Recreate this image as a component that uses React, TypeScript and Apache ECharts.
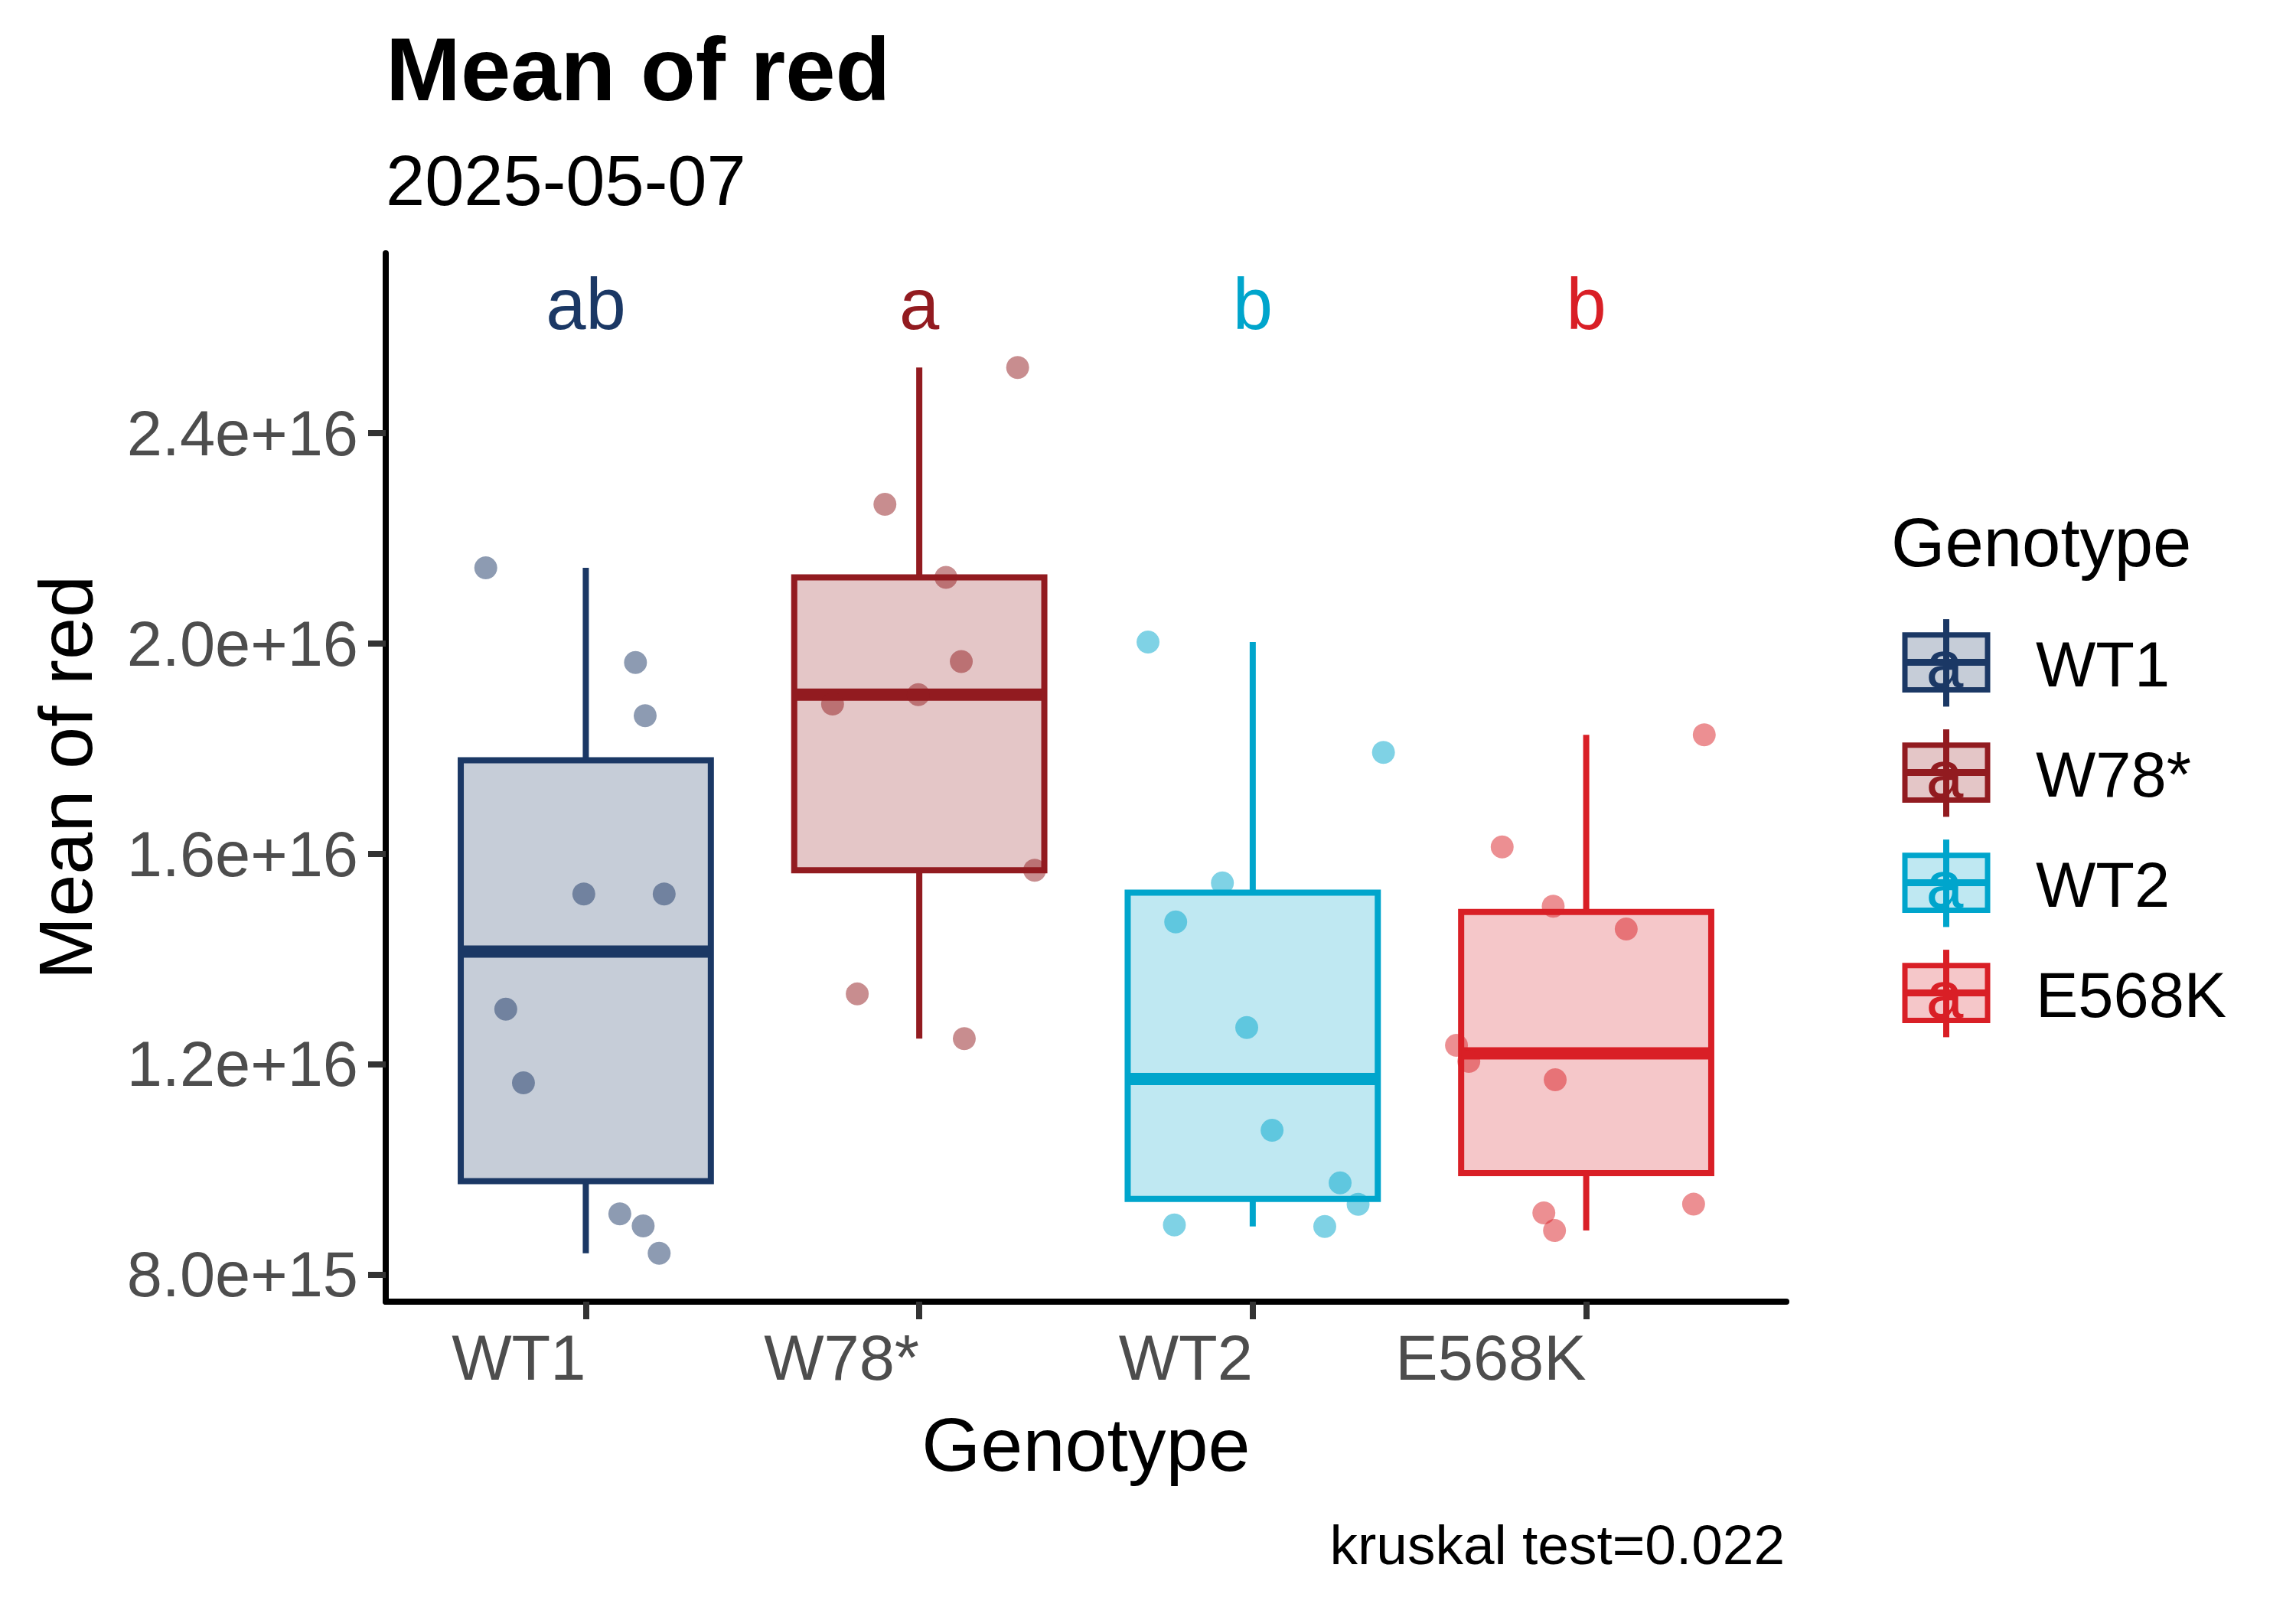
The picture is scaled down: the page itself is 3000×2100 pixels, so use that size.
import React, { useEffect, useRef } from "react";
import * as echarts from "echarts";

// ---------------- data ----------------
const genotypes = ["WT1", "W78*", "WT2", "E568K"];
const genotypeColors = ["#1B3865", "#921B20", "#00A5CC", "#D91F26"];
const groupLetters = ["ab", "a", "b", "b"];
const letterY = 2.645e16;

const wt1Values = [2.144e16, 1.964e16, 1.863e16, 1.524e16, 1.524e16, 1.305e16, 1.165e16, 9.16e15, 8.93e15, 8.41e15];
const wt1Jitter = [-0.3, 0.149, 0.178, -0.006, 0.235, -0.24, -0.187, 0.102, 0.172, 0.22];

const w78Values = [2.525e16, 2.265e16, 2.126e16, 1.966e16, 1.903e16, 1.885e16, 1.569e16, 1.334e16, 1.249e16];
const w78Jitter = [0.295, -0.103, 0.08, 0.126, -0.003, -0.26, 0.346, -0.186, 0.135];

const wt2Values = [2.003e16, 1.793e16, 1.545e16, 1.471e16, 1.27e16, 1.075e16, 9.75e15, 9.34e15, 8.95e15, 8.92e15];
const wt2Jitter = [-0.314, 0.392, -0.091, -0.231, -0.018, 0.058, 0.262, 0.316, -0.235, 0.216];

const e568kValues = [1.8265e16, 1.6135e16, 1.5008e16, 1.4576e16, 1.2364e16, 1.2058e16, 1.1709e16, 9.343e15, 9.178e15, 8.844e15];
const e568kJitter = [0.354, -0.252, -0.099, 0.12, -0.389, -0.352, -0.093, 0.322, -0.127, -0.095];

const pointValues = [wt1Values, w78Values, wt2Values, e568kValues];
const pointJitter = [wt1Jitter, w78Jitter, wt2Jitter, e568kJitter];

const yTickValues = [8e15, 1.2e16, 1.6e16, 2.0e16, 2.4e16];
const yTickLabels = ["8.0e+15", "1.2e+16", "1.6e+16", "2.0e+16", "2.4e+16"];
const xTickValues = [1, 2, 3, 4];
const yMin = 7.49e15;
const yMax = 2.742e16;
const xMin = 0.4;
const xMax = 4.6;
const boxWidth = 0.75;

const titleText = "Mean of red";
const subtitleText = "2025-05-07";
const xTitle = "Genotype";
const yTitle = "Mean of red";
const legendTitle = "Genotype";
const captionText = "kruskal test=0.022";

// ---------------- helpers ----------------
const FONT = "'Liberation Sans', Arial, Helvetica, sans-serif";

function alpha(hex: string, a: number): string {
  const r = parseInt(hex.slice(1, 3), 16);
  const g = parseInt(hex.slice(3, 5), 16);
  const b = parseInt(hex.slice(5, 7), 16);
  return `rgba(${r},${g},${b},${a})`;
}

function quantile(sorted: number[], p: number): number {
  const h = (sorted.length - 1) * p;
  const lo = Math.floor(h);
  const hi = Math.ceil(h);
  return sorted[lo] + (h - lo) * (sorted[hi] - sorted[lo]);
}

function boxStats(values: number[]) {
  const s = [...values].sort((a, b) => a - b);
  const q1 = quantile(s, 0.25);
  const med = quantile(s, 0.5);
  const q3 = quantile(s, 0.75);
  const iqr = q3 - q1;
  const low = Math.min(...s.filter((v) => v >= q1 - 1.5 * iqr));
  const high = Math.max(...s.filter((v) => v <= q3 + 1.5 * iqr));
  return [low, q1, med, q3, high];
}

export default function App() {
  const ref = useRef<HTMLDivElement>(null);

  useEffect(() => {
    if (!ref.current) return;
    const chart = echarts.init(ref.current, undefined, { renderer: "svg" });

    const boxData = genotypes.map((g, i) => [i + 1, ...boxStats(pointValues[i])]);
    const letterData = genotypes.map((g, i) => [i + 1, letterY]);

    const scatterSeries = genotypes.map((g, i) => ({
      type: "scatter",
      name: g,
      silent: true,
      z: 5,
      symbol: "circle",
      symbolSize: 30,
      itemStyle: { color: genotypeColors[i], opacity: 0.5 },
      data: pointValues[i].map((v, j) => [i + 1 + pointJitter[i][j], v]),
    }));

    // legend drawn as graphic elements (ggplot-like keys)
    const legendGraphics: any[] = [];
    genotypes.forEach((g, i) => {
      const cy = 865.6 + 144 * i;
      const c = genotypeColors[i];
      legendGraphics.push(
        { type: "line", shape: { x1: 2543, y1: cy - 56.5, x2: 2543, y2: cy + 57.8 }, style: { stroke: c, lineWidth: 8 } },
        { type: "rect", shape: { x: 2489, y: cy - 35.8, width: 108, height: 71.6 }, style: { fill: alpha(c, 0.25), stroke: c, lineWidth: 7 } },
        { type: "line", shape: { x1: 2489, y1: cy, x2: 2597, y2: cy }, style: { stroke: c, lineWidth: 9 } },
        { type: "text", x: 2541, y: cy + 2, style: { text: "a", fill: c, fontSize: 88, fontFamily: FONT, align: "center", verticalAlign: "middle" } },
        { type: "text", x: 2660, y: cy + 3, style: { text: g, fill: "#000000", fontSize: 83, fontFamily: FONT, align: "left", verticalAlign: "middle" } }
      );
    });

    const option: any = {
      animation: false,
      backgroundColor: "#ffffff",
      textStyle: { fontFamily: FONT },
      grid: { left: 504, top: 331, width: 1830, height: 1370, containLabel: false },
      xAxis: {
        type: "value",
        min: xMin,
        max: xMax,
        axisLine: { show: true, onZero: false, lineStyle: { color: "#000000", width: 8 } },
        axisTick: { show: true, customValues: xTickValues, length: 23, lineStyle: { color: "#333333", width: 8 } },
        axisLabel: {
          show: true,
          customValues: xTickValues,
          formatter: (v: number) => genotypes[Math.round(v) - 1] ?? "",
          align: "right",
          margin: 32,
          fontSize: 83,
          color: "#4D4D4D",
          fontFamily: FONT,
        },
        splitLine: { show: false },
      },
      yAxis: {
        type: "value",
        min: yMin,
        max: yMax,
        axisLine: { show: true, onZero: false, lineStyle: { color: "#000000", width: 8 } },
        axisTick: { show: true, customValues: yTickValues, length: 23, lineStyle: { color: "#333333", width: 8 } },
        axisLabel: {
          show: true,
          customValues: yTickValues,
          formatter: (v: number) => {
            const k = yTickValues.findIndex((t) => Math.abs(t - v) < 1e12);
            return k >= 0 ? yTickLabels[k] : "";
          },
          margin: 36,
          fontSize: 83,
          color: "#4D4D4D",
          fontFamily: FONT,
        },
        splitLine: { show: false },
      },
      series: [
        {
          type: "custom",
          name: "box",
          silent: true,
          z: 2,
          data: boxData,
          encode: { x: 0, y: [1, 2, 3, 4, 5] },
          renderItem: (params: any, api: any) => {
            const idx = params.dataIndex;
            const c = genotypeColors[idx];
            const x = api.value(0);
            const hw = api.size([boxWidth, 0])[0] / 2;
            const [cx, yLow] = api.coord([x, api.value(1)]);
            const yQ1 = api.coord([x, api.value(2)])[1];
            const yMed = api.coord([x, api.value(3)])[1];
            const yQ3 = api.coord([x, api.value(4)])[1];
            const yHigh = api.coord([x, api.value(5)])[1];
            return {
              type: "group",
              children: [
                { type: "line", shape: { x1: cx, y1: yQ3, x2: cx, y2: yHigh }, style: { stroke: c, lineWidth: 8 } },
                { type: "line", shape: { x1: cx, y1: yQ1, x2: cx, y2: yLow }, style: { stroke: c, lineWidth: 8 } },
                {
                  type: "rect",
                  shape: { x: cx - hw, y: yQ3, width: 2 * hw, height: yQ1 - yQ3 },
                  style: { fill: alpha(c, 0.25), stroke: c, lineWidth: 8 },
                },
                { type: "line", shape: { x1: cx - hw, y1: yMed, x2: cx + hw, y2: yMed }, style: { stroke: c, lineWidth: 16 } },
              ],
            };
          },
        },
        ...scatterSeries,
        {
          type: "custom",
          name: "letters",
          silent: true,
          z: 6,
          data: letterData,
          encode: { x: 0, y: 1 },
          renderItem: (params: any, api: any) => {
            const idx = params.dataIndex;
            const [px, py] = api.coord([api.value(0), api.value(1)]);
            return {
              type: "text",
              x: px,
              y: py,
              style: {
                text: groupLetters[idx],
                fill: genotypeColors[idx],
                fontSize: 94,
                fontFamily: FONT,
                align: "center",
                verticalAlign: "middle",
              },
            };
          },
        },
      ],
      graphic: [
        { type: "text", x: 504, y: 90, style: { text: titleText, fontSize: 117.5, fontWeight: "bold", fill: "#000000", fontFamily: FONT, align: "left", verticalAlign: "middle" } },
        { type: "text", x: 504, y: 236, style: { text: subtitleText, fontSize: 92, fill: "#000000", fontFamily: FONT, align: "left", verticalAlign: "middle" } },
        { type: "text", x: 85, y: 1016, rotation: Math.PI / 2, style: { text: yTitle, fontSize: 99, fill: "#000000", fontFamily: FONT, align: "center", verticalAlign: "middle" } },
        { type: "text", x: 1419, y: 1887, style: { text: xTitle, fontSize: 99, fill: "#000000", fontFamily: FONT, align: "center", verticalAlign: "middle" } },
        { type: "text", x: 2332, y: 2018, style: { text: captionText, fontSize: 73, fill: "#000000", fontFamily: FONT, align: "right", verticalAlign: "middle" } },
        { type: "text", x: 2471, y: 708, style: { text: legendTitle, fontSize: 90.5, fill: "#000000", fontFamily: FONT, align: "left", verticalAlign: "middle" } },
        ...legendGraphics,
      ],
    };

    chart.setOption(option);
    return () => chart.dispose();
  }, []);

  return (
    <div
      ref={ref}
      style={{ position: "absolute", left: 0, top: 0, width: 3000, height: 2100, background: "#ffffff" }}
    />
  );
}
